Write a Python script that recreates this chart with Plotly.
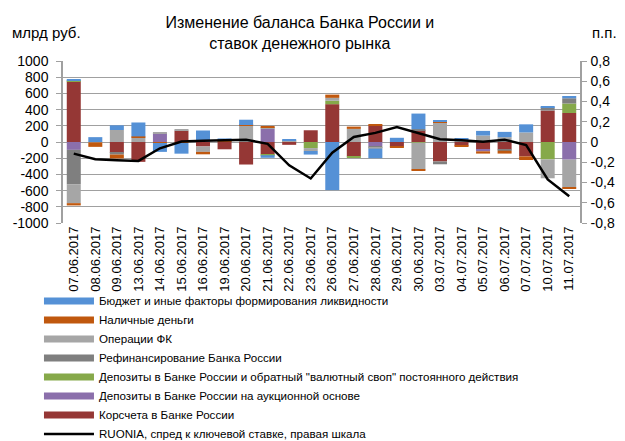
import plotly.graph_objects as go

categories = ["07.06.2017", "08.06.2017", "09.06.2017", "13.06.2017", "14.06.2017", "15.06.2017",
              "16.06.2017", "19.06.2017", "20.06.2017", "21.06.2017", "22.06.2017", "23.06.2017",
              "26.06.2017", "27.06.2017", "28.06.2017", "29.06.2017", "30.06.2017", "03.07.2017",
              "04.07.2017", "05.07.2017", "06.07.2017", "07.07.2017", "10.07.2017", "11.07.2017"]

korscheta = [750, 0, -135, -245, 0, 140, -55, -90, -278, -155, -35, 145,
             467, -178, 204, -58, 145, -240, -45, -93, -93, -178, 388, 358]
dep_auction = [-97, 0, 0, 0, 110, 0, 0, 0, 0, 165, 0, 0,
               0, 0, -50, 0, 0, 0, 0, -22, 0, 0, 0, -218]
dep_standing = [8, 0, 0, 0, 0, 0, 0, 0, 0, -8, 12, -75,
                42, -12, 0, 0, -8, 0, 0, 0, 0, 0, -215, 117]
refinancing = [-424, 0, -20, 0, 0, 0, 0, 0, 0, 0, 0, 0,
               0, 0, -12, 0, 14, -35, 0, 0, -15, 0, 40, 65]
fx_ops = [-234, -5, 148, 57, 5, 12, -67, 10, 205, 12, 6, -36,
          36, 162, -20, 0, -330, 242, 25, 80, 60, 118, -233, -340]
cash = [-28, -55, -48, 12, -12, -12, -30, 12, 5, 12, 0, 0,
        40, 28, 14, -6, -16, 15, -12, -28, -35, -44, 0, -16]
budget = [20, 60, 58, 172, -110, -132, 142, 22, 65, -32, 8, -44,
          -594, 0, -118, 52, 192, 6, 20, 57, 65, 100, 16, 28]
ruonia = [-0.115, -0.17, -0.18, -0.187, -0.062, 0.005, 0.012, 0.017, 0.023, -0.018, -0.23, -0.36,
          -0.105, 0.05, 0.09, 0.148, 0.09, 0.027, 0.017, 0.003, 0.023, -0.03, -0.37, -0.535]

left_tickvals = [-1000, -800, -600, -400, -200, 0, 200, 400, 600, 800, 1000]
left_ticktext = ["-1000", "-800", "-600", "-400", "-200", "0", "200", "400", "600", "800", "1000"]
right_tickvals = [-0.8, -0.6, -0.4, -0.2, 0, 0.2, 0.4, 0.6, 0.8]
right_ticktext = ["-0,8", "-0,6", "-0,4", "-0,2", "0", "0,2", "0,4", "0,6", "0,8"]

series = [
    ("Корсчета в Банке России", korscheta, "#953735"),
    ("Депозиты в Банке России на аукционной основе", dep_auction, "#8B6FAB"),
    ("Депозиты в Банке России и обратный \"валютный своп\" постоянного действия", dep_standing, "#86A94A"),
    ("Рефинансирование Банка России", refinancing, "#7F7F7F"),
    ("Операции ФК", fx_ops, "#A6A6A6"),
    ("Наличные деньги", cash, "#C0580E"),
    ("Бюджет и иные факторы формирования ликвидности", budget, "#5591D6"),
]

FONT = "Liberation Sans, Arial, sans-serif"
fig = go.Figure()
n = len(series)
for i, (name, vals, color) in enumerate(series):
    fig.add_trace(go.Bar(x=categories, y=vals, name=name, marker_color=color,
                         marker_line_width=0, showlegend=False))
    fig.add_trace(go.Scatter(x=[None], y=[None], mode="lines", name=name,
                             line=dict(color=color, width=7), legendrank=100 + (n - i),
                             hoverinfo="skip"))

fig.add_trace(go.Scatter(x=categories, y=ruonia, mode="lines", yaxis="y2",
                         name="RUONIA, спред к ключевой ставке, правая шкала",
                         line=dict(color="black", width=2.5), legendrank=200))

grid = "#A0A0A0"
# the page body adds an 8px offset, so the figure is drawn 8px smaller
fig.update_layout(
    width=617, height=433,
    margin=dict(l=55, r=45, t=53, b=218, autoexpand=False),
    paper_bgcolor="white", plot_bgcolor="white",
    barmode="relative", bargap=0.35,
    font=dict(family=FONT, size=13, color="black"),
    title=dict(text="Изменение баланса Банка России и<br>ставок денежного рынка",
               x=0.473, xanchor="center", y=0.953, yanchor="middle",
               font=dict(family=FONT, size=16, color="black")),
    xaxis=dict(type="category", tickangle=-90, showgrid=False, ticks="",
               tickfont=dict(size=13), showline=False, zeroline=False, automargin=False),
    xaxis2=dict(overlaying="x", anchor="free", position=0.5, range=[-0.5, len(categories) - 0.5],
                tickvals=[i + 0.5 for i in range(len(categories) - 1)], ticks="outside",
                ticklen=4, tickcolor=grid, showticklabels=False, showgrid=False,
                showline=False, zeroline=False),
    yaxis=dict(range=[-1000, 1000], tickvals=left_tickvals, ticktext=left_ticktext,
               showgrid=True, gridcolor=grid, gridwidth=1, zeroline=False,
               showline=True, linecolor=grid, linewidth=1.5, ticks="outside", ticklen=5,
               tickcolor=grid, tickfont=dict(size=14), automargin=False, ticklabelstandoff=5),
    yaxis2=dict(range=[-0.8, 0.8], tickvals=right_tickvals, ticktext=right_ticktext,
                overlaying="y", side="right", showgrid=False, zeroline=False,
                showline=True, linecolor=grid, linewidth=1.5, ticks="outside", ticklen=5,
                tickcolor=grid, tickfont=dict(size=14), automargin=False, ticklabelstandoff=1),
    legend=dict(xref="container", yref="container", x=0.0502, y=0.357,
                xanchor="left", yanchor="top", orientation="v",
                font=dict(size=11.6), itemwidth=50, tracegroupgap=0,
                bgcolor="rgba(0,0,0,0)"),
    annotations=[
        dict(text="млрд руб.", xref="paper", yref="paper", x=-0.1025, y=1.173,
             xanchor="left", yanchor="middle", showarrow=False, font=dict(size=15)),
        dict(text="п.п.", xref="paper", yref="paper", x=1.019, y=1.173,
             xanchor="left", yanchor="middle", showarrow=False, font=dict(size=15)),
    ],
)

fig.write_html("out.html")
